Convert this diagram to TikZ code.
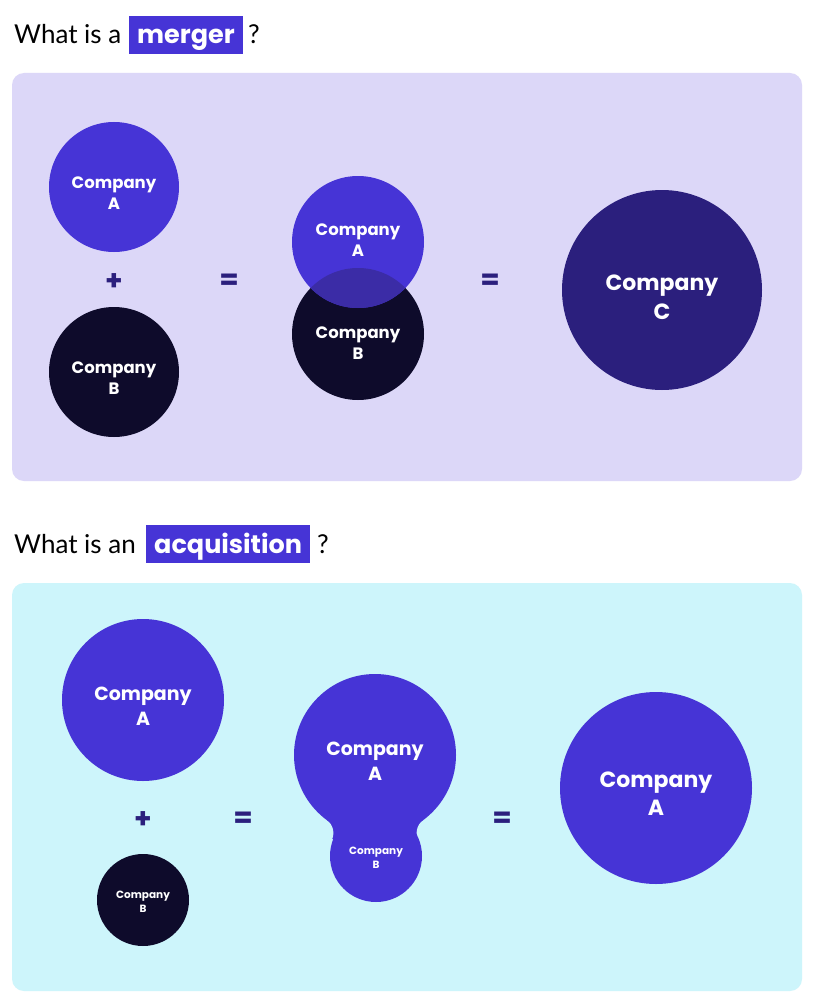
\documentclass[tikz,border=0pt]{standalone}
\usepackage{fontspec}
\setmainfont{Lato}
\newfontfamily\pop{Poppins}
\definecolor{pA}{HTML}{4634D6}
\definecolor{dk}{HTML}{0E0B2B}
\definecolor{cC}{HTML}{2B1F7D}
\definecolor{lav}{HTML}{DCD7F8}
\definecolor{cya}{HTML}{CDF5FB}
\definecolor{ovl}{HTML}{3B2CA6}
\tikzset{
  panel/.style={rounded corners=12pt, draw=none},
  clab/.style={text=white, align=center, font=\pop\bfseries, inner sep=0pt},
  op/.style={text=cC, font=\pop\bfseries\fontsize{28}{28}\selectfont},
  ttl/.style={anchor=base west, font=\fontsize{26}{30}\selectfont, inner sep=0pt, text=black},
  hl/.style={anchor=base west, fill=pA, text=white, font=\pop\bfseries\fontsize{25.5}{30}\selectfont, inner xsep=8pt, inner ysep=0pt, text height=28pt, text depth=10pt}
}
\begin{document}
\begin{tikzpicture}[x=1pt,y=-1pt]
\useasboundingbox[fill=white] (0,0) rectangle (815,1006);
% panels
\fill[lav, panel] (12,73) rectangle (802,481);
\fill[cya, panel] (12,583) rectangle (802,991);
% titles
\node[ttl] (t1) at (14,44) {What is a};
\node[hl] (h1) at (129,44) {merger};
\node[ttl] (q1) at (248,44) {?};
\node[ttl] (t2) at (14,553) {What is an};
\node[hl] (h2) at (146,553) {acquisition};
\node[ttl] (q2) at (317,553) {?};
% merger
\fill[pA] (114,187) circle (65);
\node[clab, font=\pop\bfseries\fontsize{16.5}{21}\selectfont] (mA) at (114,193) {Company\\A};
\node[op] (plus1) at (114,282) {+};
\fill[dk] (114,372) circle (65);
\node[clab, font=\pop\bfseries\fontsize{16.5}{21}\selectfont] (mB) at (114,378) {Company\\B};
\node[op] (eq1) at (229,282) {=};
\fill[dk] (358,334) circle (66);
\fill[pA] (358,242) circle (66);
\begin{scope}
\clip (358,242) circle (66);
\fill[ovl] (358,334) circle (66);
\end{scope}
\node[clab, font=\pop\bfseries\fontsize{16.5}{21}\selectfont] (mA2) at (358,240) {Company\\A};
\node[clab, font=\pop\bfseries\fontsize{16.5}{21}\selectfont] (mB2) at (358,343) {Company\\B};
\node[op] (eq2) at (490,282) {=};
\fill[cC] (662,290) circle (100);
\node[clab, font=\pop\bfseries\fontsize{22}{29}\selectfont] (mC) at (662,297) {Company\\C};
% acquisition
\fill[pA] (143,700) circle (81);
\node[clab, font=\pop\bfseries\fontsize{19}{25}\selectfont] (aA) at (143,706) {Company\\A};
\node[op] (plus2) at (143,820) {+};
\fill[dk] (143,900) circle (46);
\node[clab, font=\pop\bfseries\fontsize{10.5}{14}\selectfont] (aB) at (143,902) {Company\\B};
\node[op] (eq3) at (243,820) {=};
% joined circles with fillet
\fill[pA] (375,755) -- (317.4,833) -- (376,856) -- (432.6,833) -- cycle;
\fill[cya] (317.4,833) circle (16);
\fill[cya] (432.6,833) circle (16);
\fill[pA] (375,755) circle (81);
\fill[pA] (376,856) circle (46);
\node[clab, font=\pop\bfseries\fontsize{19}{25}\selectfont] (aA2) at (375,761) {Company\\A};
\node[clab, font=\pop\bfseries\fontsize{10.5}{14}\selectfont] (aB2) at (376,858) {Company\\B};
\node[op] (eq4) at (502,820) {=};
\fill[pA] (656,788) circle (96);
\node[clab, font=\pop\bfseries\fontsize{22}{28}\selectfont] (aA3) at (656,794) {Company\\A};
\end{tikzpicture}
\end{document}
